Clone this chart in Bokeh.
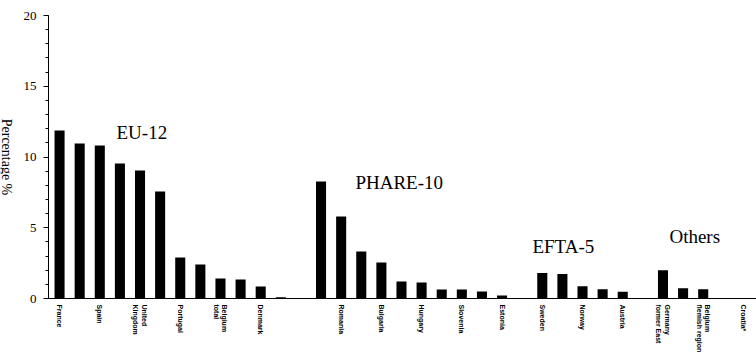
import math
from bokeh.plotting import figure
from bokeh.models import Range1d, FixedTicker, Label, ColumnDataSource
from bokeh.layouts import row
from bokeh.core.properties import value
from bokeh.embed import file_html
from bokeh.resources import INLINE

# ---- data ----
group_names = ["EU-12", "PHARE-10", "EFTA-5", "Others"]

eu_labels = ["France", "", "Spain", "", "United\nKingdom", "", "Portugal", "",
             "Belgium\ntotal", "", "Denmark", ""]
eu_values = [11.87, 10.95, 10.81, 9.54, 9.05, 7.56, 2.90, 2.40, 1.41, 1.34, 0.85, 0.09]

phare_labels = ["", "Romania", "", "Bulgaria", "", "Hungary", "", "Slovenia", "", "Estonia"]
phare_values = [8.27, 5.80, 3.32, 2.54, 1.20, 1.13, 0.64, 0.64, 0.49, 0.21]

efta_labels = ["Sweden", "", "Norway", "", "Austria"]
efta_values = [1.80, 1.74, 0.87, 0.66, 0.47]

other_labels = ["Germany\nformer East", "", "Belgium\nflemish region", "", "Croatia*"]
other_values = [2.00, 0.73, 0.66, 0.0, 0.0]

y_ticks = [0, 5, 10, 15, 20]
y_title = "Percentage %"

groups = [(eu_labels, eu_values), (phare_labels, phare_values),
          (efta_labels, efta_values), (other_labels, other_values)]

SERIF = "Liberation Serif, Times New Roman, serif"

# ---- build slot positions (one empty slot between groups) ----
xs, tops, labels = [], [], []
pos = 0
for gl, gv in groups:
    for l, v in zip(gl, gv):
        xs.append(pos)
        tops.append(v)
        labels.append(l)
        pos += 1
    pos += 1

src = ColumnDataSource(dict(x=xs, top=tops))

# ---- narrow panel holding the y-axis title (reads top to bottom) ----
LEFT_W = 20
pt = figure(width=LEFT_W, height=358, x_range=Range1d(0, LEFT_W),
            y_range=Range1d(0, 358), min_border=0,
            output_backend="svg", toolbar_location=None)
pt.axis.visible = False
pt.grid.visible = False
pt.outline_line_color = None
pt.text(x=[6], y=[179], text=[y_title], angle=-math.pi / 2,
        text_align="center", text_baseline="middle",
        text_font=value(SERIF), text_font_size="14px", text_color="black")

# ---- main chart ----
p = figure(width=756 - LEFT_W, height=358,
           x_range=Range1d(-0.55, 34.65), y_range=Range1d(0, 20),
           min_border_left=48 - LEFT_W, min_border_right=0, min_border_top=15,
           min_border_bottom=60,
           output_backend="svg", toolbar_location=None)

p.vbar(x="x", top="top", bottom=0, width=0.5, source=src,
       fill_color="black", line_color=None)

p.grid.visible = False
p.outline_line_color = None
p.background_fill_color = "white"
p.border_fill_color = "white"

# y axis
ya = p.yaxis[0]
ya.ticker = FixedTicker(ticks=y_ticks, minor_ticks=list(range(0, 21)))
ya.major_tick_out = 5
ya.major_tick_in = 0
ya.minor_tick_out = 3
ya.minor_tick_in = 0
ya.major_label_standoff = 7
ya.major_label_text_font = SERIF
ya.major_label_text_font_size = "13px"
ya.major_label_text_color = "black"
ya.axis_line_color = "black"
ya.major_tick_line_color = "black"
ya.minor_tick_line_color = "black"

# x axis
xa = p.xaxis[0]
tick_pos = [x for x, l in zip(xs, labels) if l]
xa.ticker = FixedTicker(ticks=tick_pos, minor_ticks=[])
xa.major_label_overrides = {x: l for x, l in zip(xs, labels) if l}
xa.major_label_orientation = -math.pi / 2
xa.major_tick_out = 0
xa.major_tick_in = 0
xa.minor_tick_out = 0
xa.minor_tick_in = 0
xa.major_label_standoff = 6
xa.major_label_text_font = "Liberation Sans"
xa.major_label_text_font_style = "bold"
xa.major_label_text_font_size = "7px"
xa.major_label_text_color = "black"
xa.axis_line_color = "black"

# group titles
group_pos = [(2.83, 11.75), (14.71, 8.17), (23.51, 3.70), (30.32, 4.40)]
for name, (gx, gy) in zip(group_names, group_pos):
    p.add_layout(Label(x=gx, y=gy, text=name, text_align="left",
                       text_baseline="alphabetic",
                       text_font=SERIF, text_font_size="19px",
                       text_color="black"))

layout = row(pt, p, spacing=0)
open("out.html", "w").write(file_html(layout, INLINE))
